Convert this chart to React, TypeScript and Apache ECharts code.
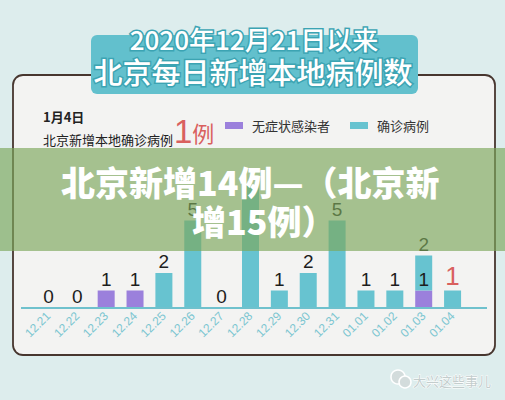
import React, { useEffect, useRef } from "react";
import * as echarts from "echarts";

const categories = ["12.21", "12.22", "12.23", "12.24", "12.25", "12.26", "12.27", "12.28", "12.29", "12.30", "12.31", "01.01", "01.02", "01.03", "01.04"];
const asymptomatic = [0, 0, 1, 1, 0, 0, 0, 0, 0, 0, 0, 0, 0, 1, 0];
const confirmed = [0, 0, 0, 0, 2, 5, 0, 7, 1, 2, 5, 1, 1, 2, 1];
const seriesNames = ["无症状感染者", "确诊病例"];
const titleLine1 = "2020年12月21日以来";
const titleLine2 = "北京每日新增本地病例数";
const noteDate = "1月4日";
const noteText = "北京新增本地确诊病例";
const noteCount = "1";
const bannerLine1 = "北京新增14例—（北京新";
const bannerLine2 = "增15例）";
const watermark = "大兴这些事儿";

const CJK = '"Noto Sans CJK SC", "Noto Sans", sans-serif';
const NUM = '"Liberation Sans", Arial, sans-serif';

export default function App() {
  const ref = useRef<HTMLDivElement>(null);
  useEffect(() => {
    if (!ref.current) return;
    const chart = echarts.init(ref.current, undefined, { renderer: "svg" });
    const last = categories.length - 1;
    const labelBase = {
      show: true,
      position: "top",
      distance: 2,
      fontSize: 19,
      color: "#1d1d1d",
      fontFamily: NUM,
    };
    const option: any = {
      animation: false,
      backgroundColor: "#ddeded",
      grid: { left: 34, right: 38, top: 133, bottom: 92 },
      legend: {
        data: seriesNames,
        left: 220,
        top: 114,
        icon: "rect",
        itemWidth: 18,
        itemHeight: 7,
        itemGap: 20,
        textStyle: { fontSize: 13, color: "#333", fontFamily: CJK, padding: [0, 0, 0, 4] },
      },
      xAxis: {
        type: "category",
        data: categories,
        axisTick: { show: false },
        axisLine: { lineStyle: { color: "#6fc1cd", width: 2 } },
        axisLabel: { rotate: 45, color: "#7cc6d1", fontSize: 12, margin: 6, fontFamily: NUM },
        z: 3,
      },
      yAxis: { type: "value", min: 0, max: 10, show: false },
      series: [
        {
          name: seriesNames[0],
          type: "bar",
          stack: "total",
          barWidth: 17,
          itemStyle: { color: "#9b80dc" },
          data: asymptomatic,
          label: {
            ...labelBase,
            formatter: (p: any) => (p.value > 0 ? String(p.value) : ""),
          },
        },
        {
          name: seriesNames[1],
          type: "bar",
          stack: "total",
          barWidth: 17,
          itemStyle: { color: "#67c3d0" },
          data: confirmed.map((v, i) =>
            i === last
              ? { value: v, label: { color: "#d9605e", fontSize: 26 } }
              : v
          ),
          label: {
            ...labelBase,
            formatter: (p: any) =>
              p.value > 0 || asymptomatic[p.dataIndex] === 0 ? String(p.value) : "",
          },
        },
      ],
      graphic: [
        {
          type: "rect",
          z: -10,
          shape: { x: 13, y: 75, width: 482, height: 280, r: 10 },
          style: { fill: "#f3f3f2", stroke: "#47362f", lineWidth: 1.8 },
        },
        {
          type: "line",
          z: 1,
          shape: { x1: 21, y1: 308, x2: 487, y2: 308 },
          style: { stroke: "#6fc1cd", lineWidth: 2 },
        },
        {
          type: "rect",
          z: -5,
          shape: { x: 91, y: 35, width: 327, height: 59, r: 6 },
          style: { fill: "#62c0cd" },
        },
        {
          type: "text",
          z: -4,
          x: 254,
          y: 38,
          style: {
            text: titleLine1,
            fill: "#ffffff",
            stroke: "#3ca4b3",
            lineWidth: 3,
            font: `500 26px ${CJK}`,
            textAlign: "center",
            textVerticalAlign: "middle",
          },
        },
        {
          type: "text",
          z: -4,
          x: 253,
          y: 71,
          style: {
            text: titleLine2,
            fill: "#ffffff",
            stroke: "#3ca4b3",
            lineWidth: 3,
            font: `500 29px ${CJK}`,
            textAlign: "center",
            textVerticalAlign: "middle",
          },
        },
        {
          type: "text",
          x: 43,
          y: 116,
          style: { text: noteDate, fill: "#222", font: `bold 13px ${CJK}`, textVerticalAlign: "middle" },
        },
        {
          type: "text",
          x: 43,
          y: 139,
          style: { text: noteText, fill: "#222", font: `13px ${CJK}`, textVerticalAlign: "middle" },
        },
        {
          type: "text",
          x: 174,
          y: 148,
          style: {
            text: `{n|${noteCount}}{c|例}`,
            textVerticalAlign: "bottom",
            rich: {
              n: { fontSize: 33, fill: "#d9605e", fontFamily: NUM, color: "#d9605e" },
              c: { fontSize: 22, fill: "#d9605e", fontFamily: CJK, color: "#d9605e" },
            },
          },
        },
        {
          type: "circle",
          shape: { cx: 398, cy: 377, r: 7 },
          style: { fill: "#d3dcdc", stroke: "#ffffff", lineWidth: 1.5 },
        },
        {
          type: "circle",
          shape: { cx: 405, cy: 382, r: 6 },
          style: { fill: "#d3dcdc", stroke: "#ffffff", lineWidth: 1.5 },
        },
        {
          type: "text",
          x: 413,
          y: 380,
          style: {
            text: watermark,
            fill: "#c3cdcd",
            stroke: "#ffffff",
            lineWidth: 1,
            font: `13px ${CJK}`,
            textVerticalAlign: "middle",
          },
        },
        {
          type: "rect",
          z: 1000,
          shape: { x: 0, y: 148, width: 505, height: 103 },
          style: { fill: "rgba(125,167,91,0.66)" },
        },
        {
          type: "text",
          z: 1001,
          x: 61,
          y: 181,
          style: {
            text: bannerLine1,
            fill: "#ffffff",
            font: `900 34px ${CJK}`,
            textVerticalAlign: "middle",
          },
        },
        {
          type: "text",
          z: 1001,
          x: 192,
          y: 220,
          style: {
            text: bannerLine2,
            fill: "#ffffff",
            font: `900 34px ${CJK}`,
            textVerticalAlign: "middle",
          },
        },
      ],
    };
    chart.setOption(option);
    return () => chart.dispose();
  }, []);
  return (
    <div
      ref={ref}
      style={{ position: "fixed", left: 0, top: 0, width: 505, height: 400 }}
    />
  );
}
